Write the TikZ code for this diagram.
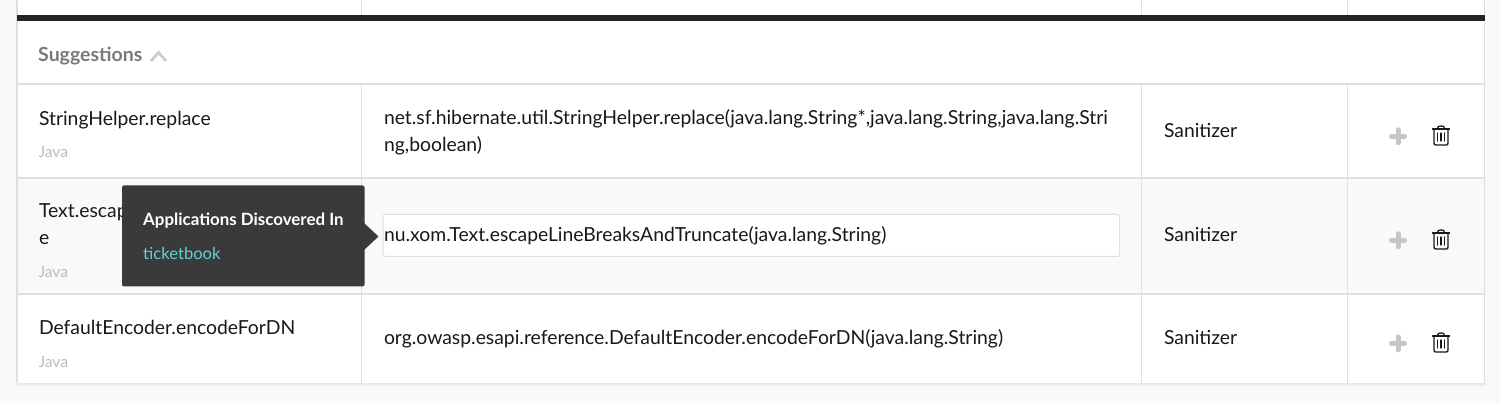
\documentclass[tikz,border=0pt]{standalone}
\usepackage{fontspec}
\setmainfont{Lato}
\usetikzlibrary{calc}
\definecolor{pagebg}{HTML}{F9F9F9}
\definecolor{rowbg}{HTML}{F9F9F9}
\definecolor{rule}{HTML}{DFDFDF}
\definecolor{barc}{HTML}{242424}
\definecolor{tipbg}{HTML}{3A3A3A}
\definecolor{linkc}{HTML}{5FD3D8}
\definecolor{inkc}{HTML}{181818}
\definecolor{headc}{HTML}{7A7A7A}
\definecolor{mutedc}{HTML}{BDBDBD}
\definecolor{plusc}{HTML}{C6C6C6}
\tikzset{
  x=1pt,y=-1pt,
  txt/.style={anchor=base west,inner sep=0pt,outer sep=0pt,text=inkc,font=\fontsize{19.35}{19.35}\selectfont},
  lang/.style={anchor=base west,inner sep=0pt,outer sep=0pt,text=mutedc,font=\fontsize{15.7}{15.7}\selectfont},
  gridline/.style={draw=rule,line width=1.8pt},
  edgeline/.style={draw=rule,line width=1.2pt},
  trashline/.style={draw=inkc,line width=1.3pt,line cap=round,line join=round},
  plusline/.style={draw=plusc,line width=5pt,line cap=round},
}
\newcommand{\plusicon}[2]{%
  \draw[plusline] (#1-6.5,#2) -- (#1+6.5,#2);
  \draw[plusline] (#1,#2-6.5) -- (#1,#2+6.5);
}
\newcommand{\trashicon}[2]{%
  \begin{scope}[shift={(#1,#2)}]
    \draw[trashline] (-8.5,-7) -- (8.5,-7);
    \draw[trashline] (-3.5,-7) .. controls (-3.5,-9.8) and (-2.5,-10) .. (0,-10) .. controls (2.5,-10) and (3.5,-9.8) .. (3.5,-7);
    \draw[trashline] (-7,-7) -- (-7,7) .. controls (-7,8.5) and (-6.5,9) .. (-5,9) -- (5,9) .. controls (6.5,9) and (7,8.5) .. (7,7) -- (7,-7);
    \draw[trashline] (-3.2,-3) -- (-3.2,5);
    \draw[trashline] (0,-3) -- (0,5);
    \draw[trashline] (3.2,-3) -- (3.2,5);
  \end{scope}
}
\begin{document}
\begin{tikzpicture}
\useasboundingbox (0,0) rectangle (1500,403);
\fill[pagebg] (0,0) rectangle (1500,403);
% soft shadow
\fill[black!9] (17,383) rectangle (1485.5,385);
\fill[black!4] (16,385) rectangle (1486.5,387);
% table
\fill[white] (17,0) rectangle (1484.5,383.5);
\fill[rowbg] (17,178) rectangle (1484.5,294);
\draw[gridline] (17,84) -- (1484.5,84);
\draw[gridline] (17,178) -- (1484.5,178);
\draw[gridline] (17,294) -- (1484.5,294);
\draw[gridline] (361.5,0) -- (361.5,15);
\draw[gridline] (1141.5,0) -- (1141.5,15);
\draw[gridline] (1347.5,0) -- (1347.5,15);
\draw[gridline] (361.5,84) -- (361.5,383);
\draw[gridline] (1141.5,84) -- (1141.5,383);
\draw[gridline] (1347.5,84) -- (1347.5,383);
\draw[edgeline] (17,0) -- (17,383);
\draw[edgeline] (1484.8,0) -- (1484.8,383);
\fill[barc] (17,15) rectangle (1484.5,21.5);
% header
\node[anchor=base west,inner sep=0pt,text=headc,font=\fontsize{19.5}{19.5}\selectfont\bfseries] (sugg) at (38,62) {Suggestions};
\draw[draw=mutedc!75,line width=2.8pt,line join=miter] (151,61) -- (158.5,52.5) -- (166,61);
% row 1
\node[txt] (n1) at (39,126) {StringHelper.replace};
\node[lang] (l1) at (38.5,158) {Java};
\node[txt] (s1a) at (384,125) {net.sf.hibernate.util.StringHelper.replace(java.lang.String*,java.lang.String,java.lang.Stri};
\node[txt] (s1b) at (384,151.5) {ng,boolean)};
\node[txt] (k1) at (1164,138) {Sanitizer};
\plusicon{1398}{136.3}
\trashicon{1441}{136}
% row 2
\node[txt] (n2a) at (39,218) {Text.escap};
\node[txt] (n2b) at (39,245) {e};
\node[lang] (l2) at (38.5,278) {Java};
\draw[draw=rule,line width=1pt,fill=white,rounded corners=1.5pt] (383,214.5) rectangle (1119.5,256.5);
\node[txt] (s2) at (384,242) {nu.xom.Text.escapeLineBreaksAndTruncate(java.lang.String)};
\node[txt] (k2) at (1164,242) {Sanitizer};
\plusicon{1398}{240.3}
\trashicon{1441}{240}
% row 3
\node[txt] (n3) at (39,334.5) {DefaultEncoder.encodeForDN};
\node[lang] (l3) at (38.5,367) {Java};
\node[txt] (s3) at (384,345) {org.owasp.esapi.reference.DefaultEncoder.encodeForDN(java.lang.String)};
\node[txt] (k3) at (1164,345) {Sanitizer};
\plusicon{1398}{343.3}
\trashicon{1441}{343}
% tooltip
\fill[tipbg,rounded corners=2pt] (122,185.5) rectangle (364.5,286.5);
\fill[tipbg] (364,223) -- (378.5,236.5) -- (364,250) -- cycle;
\node[anchor=base west,inner sep=0pt,text=white,font=\fontsize{16.9}{16.9}\selectfont\bfseries] (tiph) at (143,225.5) {Applications Discovered In};
\node[anchor=base west,inner sep=0pt,text=linkc,font=\fontsize{16.6}{16.6}\selectfont] (tipl) at (143,259.5) {ticketbook};
\end{tikzpicture}
\end{document}
